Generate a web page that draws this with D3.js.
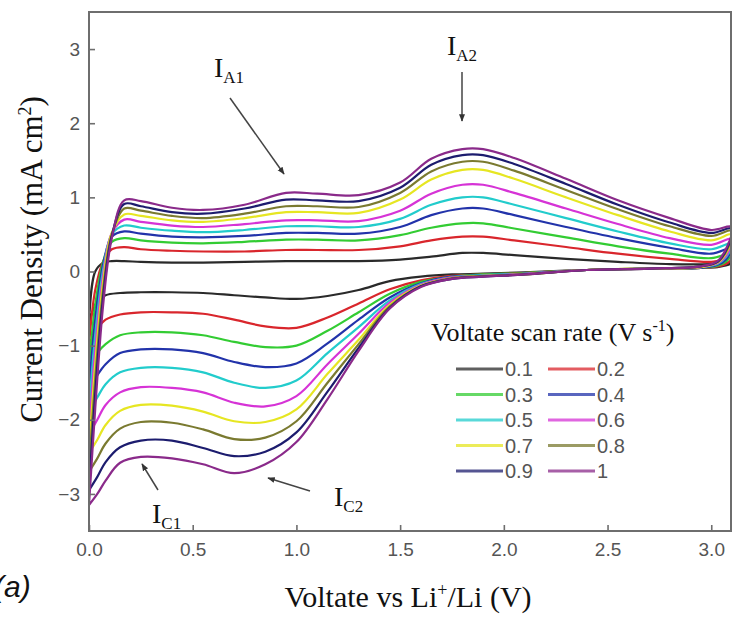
<!DOCTYPE html>
<html>
<head>
<meta charset="utf-8">
<script src="https://cdn.jsdelivr.net/npm/d3@7"></script>
<style>
  body { margin: 0; background: #fff; }
  svg { display: block; }
</style>
</head>
<body>
<div id="chart"></div>
<script>
// scan rates (V s-1) and their colours
var rates = ["0.1", "0.2", "0.3", "0.4", "0.5", "0.6", "0.7", "0.8", "0.9", "1"];
var colors = ["#2a2a2a", "#d9262c", "#33cc33", "#2233aa", "#22cccc", "#d633d6", "#e6e622", "#7a7a30", "#1c1c6e", "#8a2a8a"];

// anodic sweep (0 -> 3.1 V)
var voltUp = [0, 0.03, 0.07, 0.11, 0.17, 0.25, 0.4, 0.55, 0.75, 0.95, 1.1, 1.3, 1.5, 1.65, 1.8, 1.9, 2.05, 2.3, 2.55, 2.8, 3.0, 3.1];
var currentUp = [
  [-0.7, 0.0, 0.12, 0.14, 0.14, 0.13, 0.12, 0.12, 0.13, 0.14, 0.14, 0.14, 0.16, 0.2, 0.25, 0.25, 0.22, 0.17, 0.13, 0.1, 0.1, 0.12],
  [-1.0, -0.25, 0.15, 0.3, 0.33, 0.3, 0.28, 0.27, 0.27, 0.29, 0.29, 0.29, 0.34, 0.42, 0.47, 0.47, 0.42, 0.33, 0.24, 0.17, 0.13, 0.18],
  [-1.3, -0.45, 0.15, 0.4, 0.45, 0.42, 0.39, 0.38, 0.4, 0.43, 0.43, 0.42, 0.49, 0.59, 0.65, 0.65, 0.58, 0.46, 0.34, 0.24, 0.18, 0.25],
  [-1.6, -0.65, 0.12, 0.47, 0.54, 0.51, 0.47, 0.46, 0.48, 0.52, 0.52, 0.51, 0.6, 0.76, 0.85, 0.85, 0.76, 0.6, 0.45, 0.32, 0.24, 0.32],
  [-1.9, -0.85, 0.05, 0.5, 0.62, 0.59, 0.55, 0.53, 0.56, 0.61, 0.61, 0.6, 0.71, 0.9, 1.0, 1.0, 0.9, 0.72, 0.54, 0.38, 0.3, 0.38],
  [-2.2, -1.05, -0.02, 0.52, 0.7, 0.67, 0.62, 0.6, 0.64, 0.69, 0.69, 0.68, 0.82, 1.05, 1.17, 1.17, 1.06, 0.85, 0.64, 0.45, 0.36, 0.44],
  [-2.45, -1.25, -0.1, 0.52, 0.77, 0.75, 0.69, 0.67, 0.72, 0.8, 0.8, 0.79, 0.97, 1.24, 1.37, 1.37, 1.25, 1.0, 0.76, 0.54, 0.42, 0.5],
  [-2.7, -1.45, -0.2, 0.5, 0.85, 0.82, 0.75, 0.72, 0.78, 0.88, 0.88, 0.87, 1.06, 1.35, 1.48, 1.48, 1.36, 1.1, 0.84, 0.61, 0.48, 0.55],
  [-2.95, -1.65, -0.3, 0.48, 0.91, 0.88, 0.8, 0.78, 0.85, 0.97, 0.96, 0.95, 1.13, 1.44, 1.57, 1.57, 1.45, 1.18, 0.9, 0.66, 0.52, 0.58],
  [-3.15, -1.85, -0.4, 0.45, 0.96, 0.95, 0.86, 0.83, 0.9, 1.06, 1.05, 1.03, 1.2, 1.52, 1.65, 1.65, 1.53, 1.25, 0.96, 0.72, 0.56, 0.6]
];

// cathodic sweep (3.1 -> 0 V)
var voltDown = [3.1, 3.07, 3.03, 2.95, 2.7, 2.4, 2.1, 1.9, 1.75, 1.6, 1.45, 1.3, 1.15, 1.0, 0.85, 0.7, 0.55, 0.4, 0.25, 0.15, 0.08, 0.04, 0.0];
var currentDown = [
  [0.12, 0.08, 0.06, 0.05, 0.04, 0.02, -0.01, -0.03, -0.04, -0.07, -0.13, -0.25, -0.33, -0.37, -0.35, -0.32, -0.29, -0.28, -0.28, -0.29, -0.32, -0.4, -0.7],
  [0.18, 0.1, 0.07, 0.05, 0.04, 0.02, -0.02, -0.04, -0.06, -0.12, -0.24, -0.43, -0.62, -0.76, -0.74, -0.65, -0.57, -0.55, -0.55, -0.58, -0.65, -0.78, -1.0],
  [0.25, 0.13, 0.08, 0.05, 0.04, 0.02, -0.02, -0.04, -0.07, -0.14, -0.3, -0.55, -0.8, -1.0, -1.02, -0.95, -0.86, -0.82, -0.82, -0.86, -0.98, -1.1, -1.3],
  [0.32, 0.16, 0.09, 0.05, 0.04, 0.02, -0.03, -0.05, -0.07, -0.16, -0.35, -0.65, -0.97, -1.24, -1.29, -1.22, -1.1, -1.05, -1.05, -1.1, -1.25, -1.4, -1.6],
  [0.38, 0.19, 0.1, 0.06, 0.04, 0.02, -0.03, -0.05, -0.08, -0.17, -0.39, -0.75, -1.1, -1.47, -1.57, -1.5, -1.36, -1.3, -1.3, -1.36, -1.52, -1.7, -1.9],
  [0.44, 0.21, 0.11, 0.06, 0.04, 0.02, -0.03, -0.06, -0.08, -0.18, -0.42, -0.84, -1.25, -1.68, -1.82, -1.77, -1.63, -1.57, -1.56, -1.63, -1.8, -2.0, -2.2],
  [0.5, 0.24, 0.12, 0.06, 0.04, 0.02, -0.04, -0.06, -0.09, -0.19, -0.45, -0.92, -1.38, -1.86, -2.03, -2.02, -1.89, -1.81, -1.8, -1.88, -2.07, -2.27, -2.45],
  [0.55, 0.26, 0.13, 0.07, 0.04, 0.02, -0.04, -0.06, -0.09, -0.2, -0.47, -0.98, -1.5, -2.02, -2.24, -2.26, -2.13, -2.04, -2.03, -2.12, -2.32, -2.52, -2.7],
  [0.58, 0.28, 0.13, 0.07, 0.04, 0.02, -0.04, -0.07, -0.1, -0.2, -0.49, -1.03, -1.62, -2.17, -2.43, -2.49, -2.38, -2.28, -2.28, -2.37, -2.57, -2.77, -2.95],
  [0.6, 0.3, 0.14, 0.07, 0.04, 0.02, -0.04, -0.07, -0.1, -0.21, -0.5, -1.07, -1.72, -2.3, -2.6, -2.72, -2.6, -2.52, -2.5, -2.58, -2.82, -3.0, -3.15]
];

var xTicks = [0, 0.5, 1.0, 1.5, 2.0, 2.5, 3.0];
var yTicks = [-3, -2, -1, 0, 1, 2, 3];

var width = 732, height = 621;
var plot = {left: 89, right: 731, top: 12, bottom: 531};
var axisColor = "#6e6e6e";
var serif = "'Liberation Serif', 'Times New Roman', serif";
var sans = "'Liberation Sans', Arial, sans-serif";

var svg = d3.select("#chart").append("svg")
    .attr("width", width)
    .attr("height", height);

var x = d3.scaleLinear().domain([0, 3.1]).range([plot.left, 732]);
var y = d3.scaleLinear().domain([-3.5, 3.5]).range([plot.bottom, plot.top]);

svg.append("clipPath").attr("id", "plot-clip")
  .append("rect")
    .attr("x", plot.left).attr("y", plot.top)
    .attr("width", plot.right - plot.left).attr("height", plot.bottom - plot.top);

// curves: one closed loop per scan rate
var line = d3.line()
    .x(function(d) { return x(d[0]); })
    .y(function(d) { return y(d[1]); })
    .curve(d3.curveCatmullRom.alpha(0.5));

var loops = rates.map(function(r, i) {
  var pts = voltUp.map(function(v, j) { return [v, currentUp[i][j]]; });
  voltDown.forEach(function(v, j) {
    if (j > 0) pts.push([v, currentDown[i][j]]);
  });
  return pts;
});

svg.append("g")
    .attr("clip-path", "url(#plot-clip)")
  .selectAll("path")
  .data(loops)
  .enter().append("path")
    .attr("d", line)
    .attr("fill", "none")
    .attr("stroke", function(d, i) { return colors[i]; })
    .attr("stroke-width", 2.2)
    .attr("stroke-linejoin", "round");

// axes (ticks pointing inward)
var yAxis = d3.axisLeft(y).tickValues(yTicks).tickSize(-6).tickPadding(9).tickFormat(d3.format("d"));
var xAxis = d3.axisBottom(x).tickValues(xTicks).tickSize(-6).tickPadding(12).tickFormat(d3.format(".1f"));

var gy = svg.append("g").attr("transform", "translate(" + plot.left + ",0)").call(yAxis);
var gx = svg.append("g").attr("transform", "translate(0," + plot.bottom + ")").call(xAxis);

[gx, gy].forEach(function(g) {
  g.select(".domain").remove();
  g.selectAll(".tick line").attr("stroke", axisColor).attr("stroke-width", 1.6);
  g.selectAll(".tick text")
    .attr("fill", "#555")
    .style("font-family", sans)
    .style("font-size", "19px");
});

// frame
svg.append("rect")
    .attr("x", plot.left).attr("y", plot.top)
    .attr("width", plot.right - plot.left).attr("height", plot.bottom - plot.top)
    .attr("fill", "none")
    .attr("stroke", axisColor)
    .attr("stroke-width", 2);

// axis titles
var yLabel = svg.append("text")
    .attr("transform", "translate(42," + ((plot.top + plot.bottom) / 2 - 12) + ") rotate(-90)")
    .attr("text-anchor", "middle")
    .style("font-family", serif)
    .style("font-size", "31px")
    .attr("fill", "#111");
yLabel.append("tspan").text("Current Density (mA cm");
yLabel.append("tspan").attr("dy", -11).style("font-size", "18px").text("2");
yLabel.append("tspan").attr("dy", 11).text(")");

var xLabel = svg.append("text")
    .attr("x", 408)
    .attr("y", 607)
    .attr("text-anchor", "middle")
    .style("font-family", serif)
    .style("font-size", "30px")
    .attr("fill", "#111");
xLabel.append("tspan").text("Voltate vs Li");
xLabel.append("tspan").attr("dy", -11).style("font-size", "18px").text("+");
xLabel.append("tspan").attr("dy", 11).text("/Li (V)");

svg.append("text")
    .attr("x", -6)
    .attr("y", 597)
    .style("font-family", sans)
    .style("font-style", "italic")
    .style("font-size", "30px")
    .attr("fill", "#111")
    .text("(a)");

// legend
var legendTitle = svg.append("text")
    .attr("x", 431)
    .attr("y", 341)
    .style("font-family", serif)
    .style("font-size", "26px")
    .attr("fill", "#111");
legendTitle.append("tspan").text("Voltate scan rate (V s");
legendTitle.append("tspan").attr("dy", -10).style("font-size", "16px").text("-1");
legendTitle.append("tspan").attr("dy", 10).text(")");

var legend = svg.append("g");
rates.forEach(function(r, i) {
  var col = i % 2, row = Math.floor(i / 2);
  var lx = 456 + col * 92, ly = 369 + row * 25.5;
  legend.append("line")
      .attr("x1", lx).attr("x2", lx + 47)
      .attr("y1", ly).attr("y2", ly)
      .attr("stroke", colors[i])
      .attr("stroke-opacity", 0.75)
      .attr("stroke-width", 3);
  legend.append("text")
      .attr("x", lx + 49)
      .attr("y", ly)
      .attr("dy", "0.36em")
      .attr("fill", "#555")
      .style("font-family", sans)
      .style("font-size", "20px")
      .text(r);
});

// peak annotations
var defs = svg.append("defs");
defs.append("marker")
    .attr("id", "arrow")
    .attr("viewBox", "0 0 10 10")
    .attr("refX", 9).attr("refY", 5)
    .attr("markerWidth", 5).attr("markerHeight", 5)
    .attr("orient", "auto")
  .append("path")
    .attr("d", "M0,1 L10,5 L0,9 Z")
    .attr("fill", "#333");

function peakLabel(px, py, sub) {
  var t = svg.append("text")
      .attr("x", px).attr("y", py)
      .style("font-family", serif)
      .style("font-size", "28px")
      .attr("fill", "#111");
  t.append("tspan").text("I");
  t.append("tspan").attr("dy", 6).style("font-size", "17px").text(sub);
}

function arrow(x1, y1, x2, y2) {
  svg.append("line")
      .attr("x1", x1).attr("y1", y1)
      .attr("x2", x2).attr("y2", y2)
      .attr("stroke", "#444")
      .attr("stroke-width", 1.5)
      .attr("marker-end", "url(#arrow)");
}

peakLabel(214, 77, "A1");
arrow(230, 98, 284, 174);
peakLabel(447, 55, "A2");
arrow(462, 72, 462, 121);
peakLabel(152, 523, "C1");
arrow(158, 490, 142, 464);
peakLabel(334, 506, "C2");
arrow(310, 491, 268, 478);
</script>
</body>
</html>
